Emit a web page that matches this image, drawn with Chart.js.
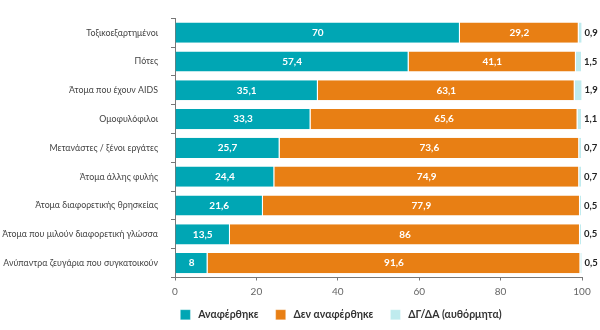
<!DOCTYPE html>
<html><head><meta charset="utf-8">
<script src="https://cdn.jsdelivr.net/npm/chart.js@4"></script>
<style>html,body{margin:0;padding:0;background:#fff}#wrap{width:600px;height:330px}</style>
</head><body><div id="wrap"><canvas id="c"></canvas></div>
<script>
const categories = ["Τοξικοεξαρτημένοι","Πότες","Άτομα που έχουν AIDS","Ομοφυλόφιλοι","Μετανάστες / ξένοι εργάτες","Άτομα άλλης φυλής","Άτομα διαφορετικής θρησκείας","Άτομα που μιλούν διαφορετική γλώσσα","Ανύπαντρα ζευγάρια που συγκατοικούν"];
const mentioned = [70,57.4,35.1,33.3,25.7,24.4,21.6,13.5,8];
const notMentioned = [29.2,41.1,63.1,65.6,73.6,74.9,77.9,86,91.6];
const dkNa = [0.9,1.5,1.9,1.1,0.7,0.7,0.5,0.5,0.5];
const seriesNames = ["Αναφέρθηκε","Δεν αναφέρθηκε","ΔΓ/ΔΑ (αυθόρμητα)"];
const xTicks = [0,20,40,60,80,100];

const fmt = v => String(v).replace('.', ',');
const FONT = "Lato, 'Open Sans', sans-serif";

const labelPlugin = {
  id: 'vals',
  afterDatasetsDraw(chart) {
    const ctx = chart.ctx;
    ctx.save();
    ctx.textBaseline = 'middle';
    chart.data.datasets.forEach((ds, di) => {
      const meta = chart.getDatasetMeta(di);
      meta.data.forEach((bar, i) => {
        const v = ds.data[i];
        if (di < 2) {
          ctx.font = "bold 10px " + FONT;
          ctx.fillStyle = '#ffffff';
          ctx.textAlign = 'center';
          ctx.fillText(fmt(v), (bar.base + bar.x) / 2, bar.y);
        } else {
          ctx.font = "bold 9.5px " + FONT;
          ctx.fillStyle = '#222222';
          ctx.textAlign = 'left';
          ctx.fillText(fmt(v), Math.max(bar.x, bar.base) + 2, bar.y);
        }
      });
    });
    ctx.restore();
  }
};

const legendShift = {
  id: 'legendShift',
  afterLayout(chart) {
    const lg = chart.legend;
    if (lg) { lg.left += 50; lg.right += 50; }
  }
};

const common = { borderColor: '#ffffff', borderWidth: {left:0, right:1, top:0, bottom:0}, categoryPercentage: 1, barPercentage: 0.7 };

new Chart(document.getElementById('c'), {
  type: 'bar',
  data: {
    labels: categories,
    datasets: [
      Object.assign({ label: seriesNames[0], data: mentioned, backgroundColor: '#00A6B4' }, common),
      Object.assign({ label: seriesNames[1], data: notMentioned, backgroundColor: '#E87F14' }, common),
      Object.assign({ label: seriesNames[2], data: dkNa, backgroundColor: '#BFEBEE' }, common)
    ]
  },
  options: {
    indexAxis: 'y',
    responsive: true,
    maintainAspectRatio: false,
    animation: false,
    layout: { padding: { top: 0, right: 18, left: 0, bottom: 0 } },
    scales: {
      x: {
        stacked: true, min: 0, max: 100,
        afterBuildTicks: (s) => { s.ticks = xTicks.map(v => ({ value: v })); },
        grid: { drawOnChartArea: false, tickLength: 3, color: '#777' },
        border: { color: '#777' },
        ticks: { font: { family: FONT, size: 10 }, color: '#666', padding: 5 }
      },
      y: {
        stacked: true,
        afterFit: (s) => { s.width = 175; },
        grid: { drawOnChartArea: false, tickLength: 4, color: '#777' },
        border: { color: '#777' },
        ticks: { font: { family: FONT, size: 8.8 }, color: '#444', padding: 13 }
      }
    },
    plugins: {
      legend: {
        position: 'bottom',
        labels: {
          boxWidth: 10, boxHeight: 10, padding: 7, color: '#333',
          font: { family: FONT, size: 10.5, weight: 'bold' },
          generateLabels: (chart) => Chart.defaults.plugins.legend.labels.generateLabels(chart)
            .map((it, i) => Object.assign(it, { text: ' ' + it.text + (i < 2 ? '    ' : '') }))
        }
      },
      tooltip: { enabled: false }
    }
  },
  plugins: [labelPlugin, legendShift]
});
</script></body></html>
